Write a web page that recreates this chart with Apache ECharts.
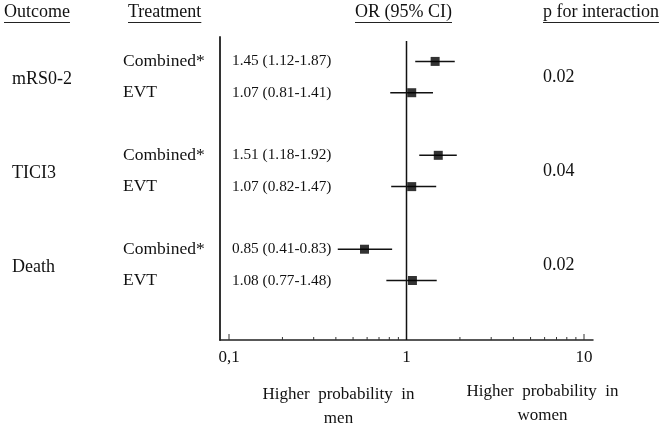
<!DOCTYPE html>
<html><head><meta charset="utf-8">
<script src="https://cdn.jsdelivr.net/npm/echarts@6/dist/echarts.min.js"></script>
<style>html,body{margin:0;padding:0;background:#fff}#c{width:669px;height:429px}</style>
</head><body><div id="c"></div>
<script>
// ---- data ----
const outcomes = ['mRS0-2', 'TICI3', 'Death'];
const outcomeRowMid = [0.5, 3.5, 6.5];
const treatments = ['Combined*', 'EVT', 'Combined*', 'EVT', 'Combined*', 'EVT'];
const rowPos = [0, 1, 3, 4, 6, 7];
const orValues = [1.45, 1.07, 1.51, 1.07, 0.58, 1.08];
const ciLow = [1.12, 0.81, 1.18, 0.82, 0.41, 0.77];
const ciHigh = [1.87, 1.41, 1.92, 1.47, 0.83, 1.48];
const estimateLabels = ['1.45 (1.12-1.87)', '1.07 (0.81-1.41)', '1.51 (1.18-1.92)', '1.07 (0.82-1.47)', '0.85 (0.41-0.83)', '1.08 (0.77-1.48)'];
const pInteraction = ['0.02', '0.04', '0.02'];
const majorTicks = [0.1, 10];
const minorTicks = [0.2, 0.3, 0.4, 0.5, 0.6, 0.7, 0.8, 0.9, 2, 3, 4, 5, 6, 7, 8, 9];
const xTickLabels = {'-1': '0,1', '0': '1', '1': '10'};
const refValue = 1;
const headers = ['Outcome', 'Treatment', 'OR (95% CI)', 'p for interaction'];
const bottomNotes = [['Higher  probability  in', 'men'], ['Higher  probability  in', 'women']];

// ---- layout ----
const FONT = '"Liberation Serif", "Times New Roman", serif';
const X_MIN = Math.pow(10, -1 - 9 / 177.5);
const X_MAX = Math.pow(10, 1 + 9 / 177.5);
const Y_MIN = -0.78, Y_MAX = 8.9, REF_TOP = -0.65;

const chart = echarts.init(document.getElementById('c'), null, {renderer: 'canvas'});

const option = {
  animation: false,
  backgroundColor: '#fff',
  grid: {left: 220, right: 76, top: 37, bottom: 89, containLabel: false},
  xAxis: {
    type: 'log', logBase: 10, min: X_MIN, max: X_MAX,
    axisLine: {show: true, onZero: false, lineStyle: {color: '#222', width: 1.5}},
    axisTick: {show: false}, splitLine: {show: false}, minorTick: {show: false},
    axisLabel: {
      show: true, margin: 9, color: '#111', fontFamily: FONT, fontSize: 17,
      showMinLabel: true, showMaxLabel: true,
      formatter: function (v) {
        const l = Math.log10(v);
        const r = Math.round(l);
        if (Math.abs(l - r) < 0.01 && xTickLabels[String(r)] !== undefined) return xTickLabels[String(r)];
        return '';
      }
    }
  },
  yAxis: {
    type: 'value', inverse: true, min: Y_MIN, max: Y_MAX,
    axisLine: {show: true, onZero: false, lineStyle: {color: '#333', width: 2}},
    axisTick: {show: false}, axisLabel: {show: false}, splitLine: {show: false}
  },
  series: [
    {
      type: 'line', name: 'ref', symbol: 'none', silent: true,
      data: [[refValue, REF_TOP], [refValue, Y_MAX]],
      lineStyle: {color: '#111', width: 1.5}
    },
    {
      type: 'custom', name: 'ci', silent: true,
      data: rowPos.map((y, i) => [ciLow[i], ciHigh[i], y]),
      renderItem: function (params, api) {
        const a = api.coord([api.value(0), api.value(2)]);
        const b = api.coord([api.value(1), api.value(2)]);
        return {type: 'line', shape: {x1: a[0], y1: a[1], x2: b[0], y2: b[1]}, style: {stroke: '#111', lineWidth: 1.5}};
      }
    },
    {
      type: 'scatter', name: 'or', symbol: 'rect', symbolSize: 9, silent: true,
      data: rowPos.map((y, i) => [orValues[i], y]),
      itemStyle: {color: '#000'}
    },
    {
      type: 'custom', name: 'ticks', silent: true,
      data: majorTicks.map(v => [v, 6]).concat(minorTicks.map(v => [v, 3])),
      renderItem: function (params, api) {
        const p = api.coord([api.value(0), Y_MAX]);
        const h = api.value(1);
        return {type: 'line', shape: {x1: p[0], y1: p[1], x2: p[0], y2: p[1] - h}, style: {stroke: '#333', lineWidth: 1}};
      }
    }
  ]
};
chart.setOption(option);

// ---- texts ----
const ctx = document.createElement('canvas').getContext('2d');
function measure(t, size) { ctx.font = size + 'px ' + FONT; return ctx.measureText(t).width; }
function yOf(v) { return chart.convertToPixel({yAxisIndex: 0}, v); }

const g = [];
const headerX = [4, 128, 355, 543];
headers.forEach((h, i) => {
  g.push({type: 'text', left: headerX[i], top: 3, style: {text: h, font: '18px ' + FONT, fill: '#111'}});
  const w = measure(h, 18);
  g.push({type: 'line', shape: {x1: headerX[i], y1: 22.5, x2: headerX[i] + w, y2: 22.5}, style: {stroke: '#222', lineWidth: 1}});
});
outcomes.forEach((o, i) => {
  const y = yOf(outcomeRowMid[i]) + 2;
  g.push({type: 'text', x: 12, y: y, style: {text: o, font: '18px ' + FONT, fill: '#111', verticalAlign: 'middle', align: 'left'}});
});
treatments.forEach((t, i) => {
  const y = yOf(rowPos[i]);
  g.push({type: 'text', x: 123, y: y, style: {text: t, font: '17.5px ' + FONT, fill: '#111', verticalAlign: 'middle', align: 'left'}});
  g.push({type: 'text', x: 232, y: y, style: {text: estimateLabels[i], font: '15.3px ' + FONT, fill: '#111', verticalAlign: 'middle', align: 'left'}});
});
pInteraction.forEach((p, i) => {
  const y = yOf(outcomeRowMid[i]);
  g.push({type: 'text', x: 543, y: y, style: {text: p, font: '18px ' + FONT, fill: '#111', verticalAlign: 'middle', align: 'left'}});
});
const noteX = [338.5, 542.5];
const noteY = [[395, 419], [392, 416]];
bottomNotes.forEach((lines, i) => {
  lines.forEach((l, j) => {
    g.push({type: 'text', x: noteX[i], y: noteY[i][j], style: {text: l, font: '17px ' + FONT, fill: '#111', verticalAlign: 'middle', align: 'center'}});
  });
});
chart.setOption({graphic: {elements: g}});
</script></body></html>
